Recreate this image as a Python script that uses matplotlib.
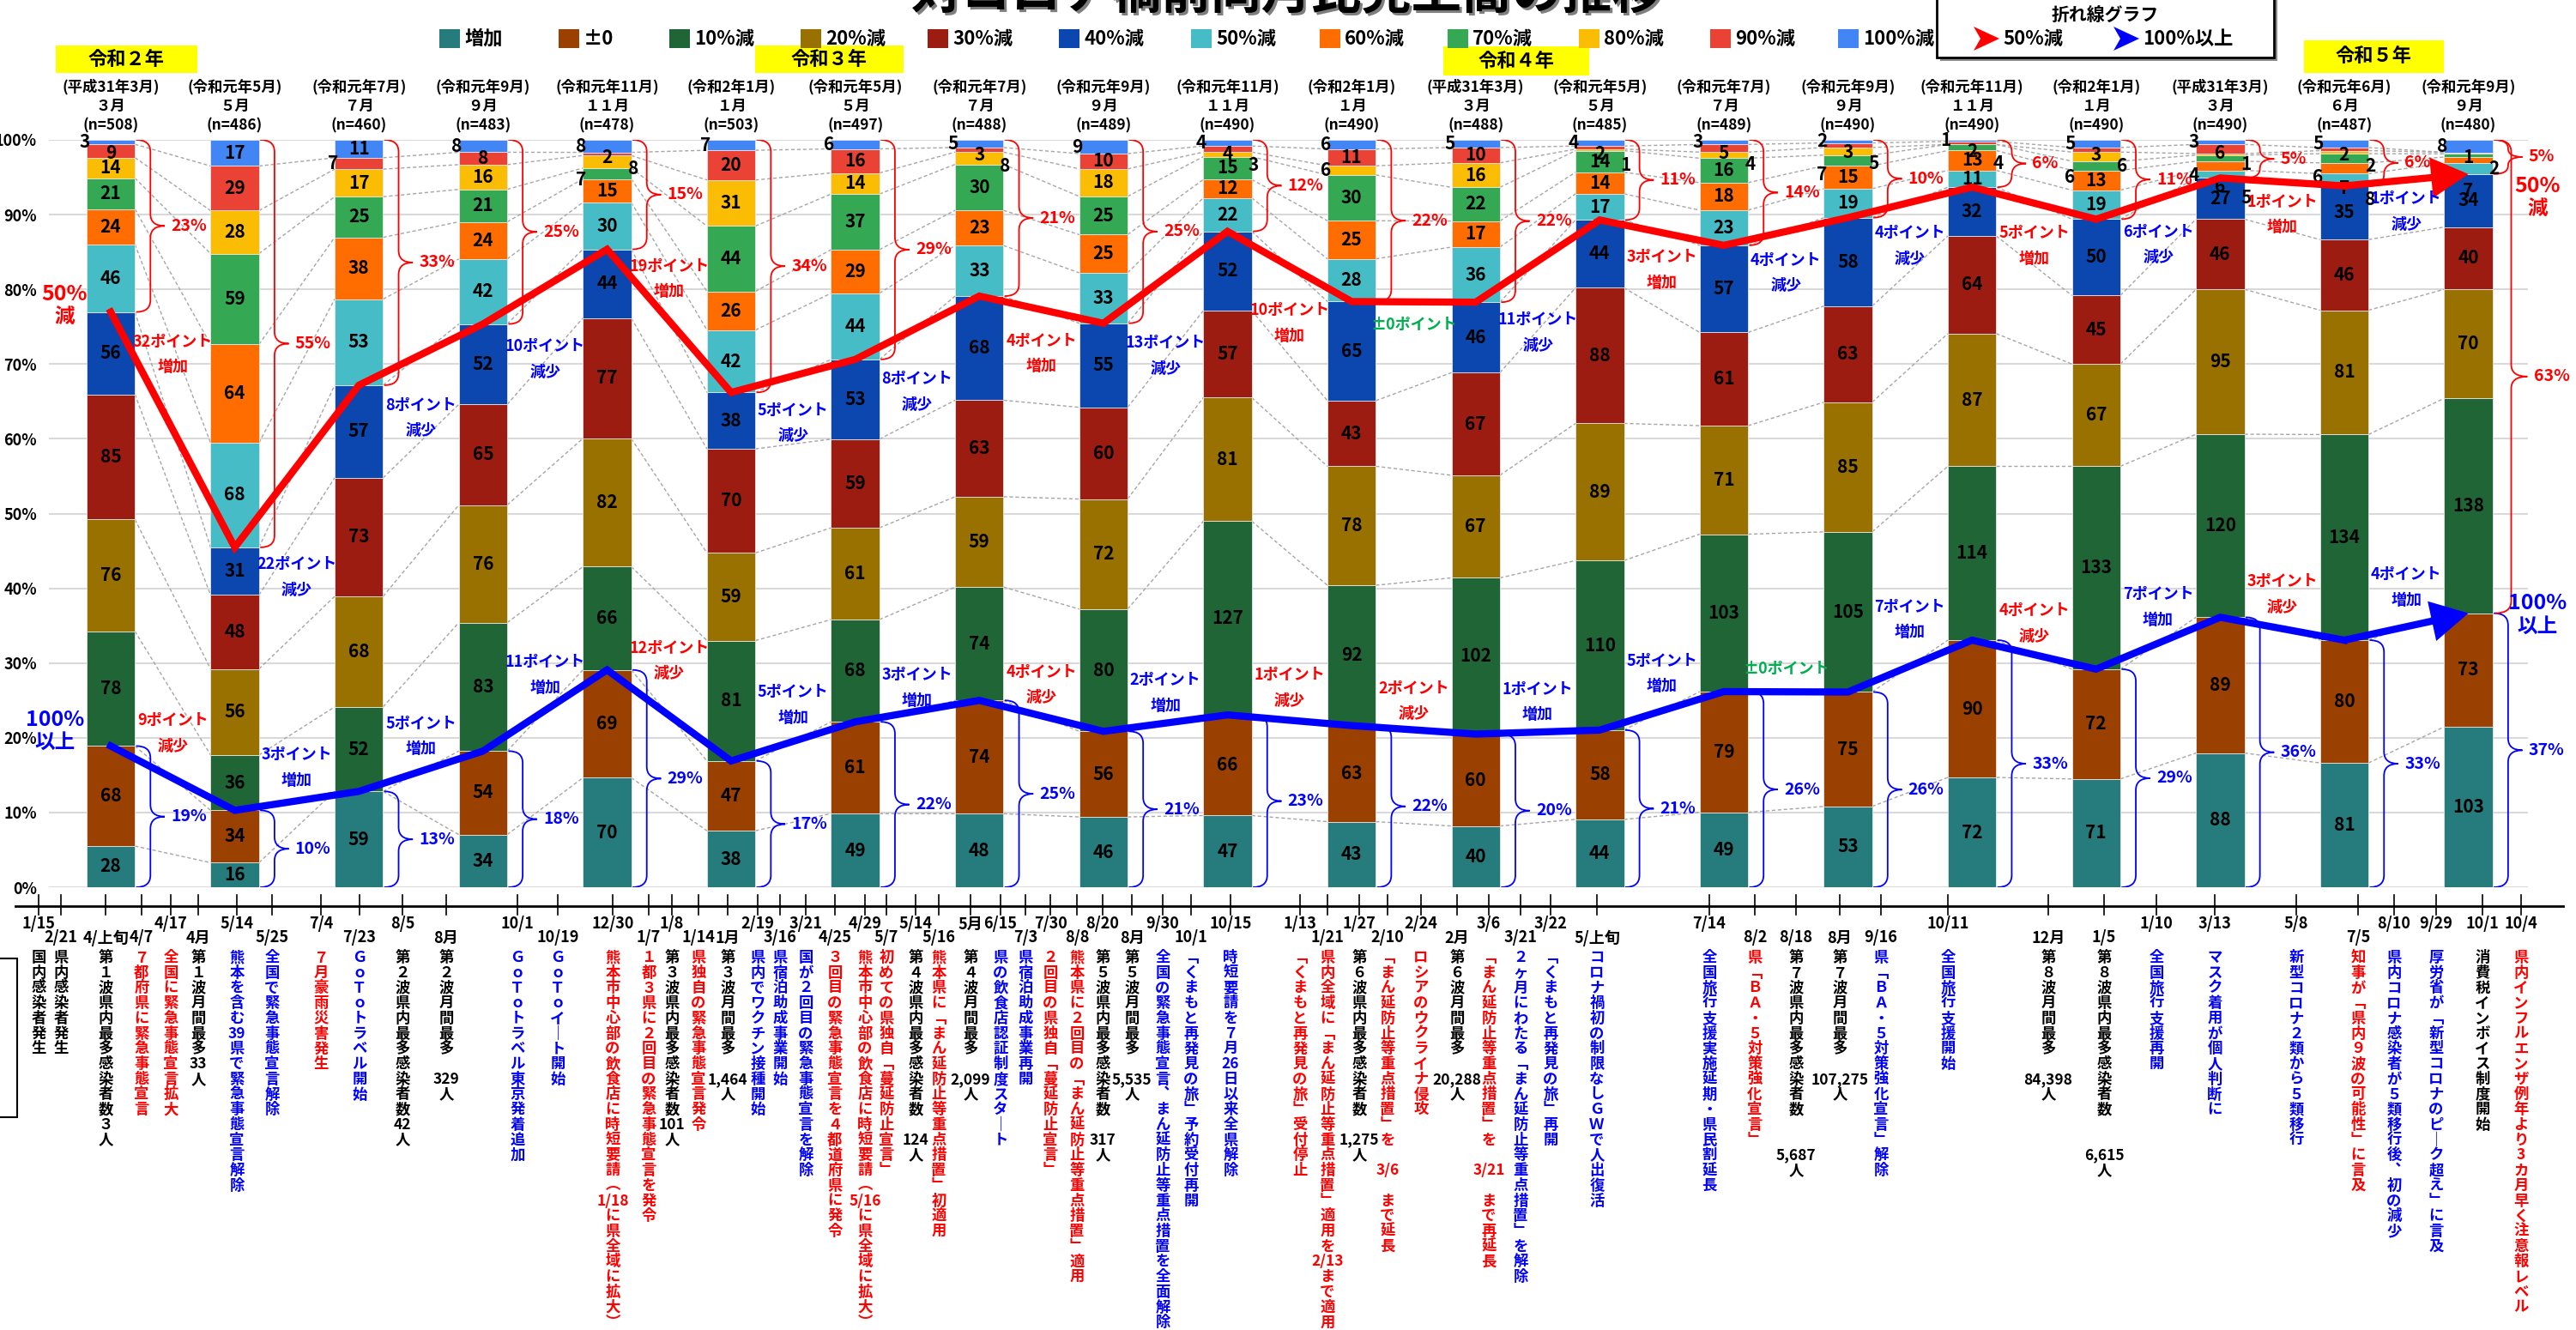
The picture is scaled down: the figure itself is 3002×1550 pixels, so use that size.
import re
import matplotlib
matplotlib.use("Agg")
import matplotlib.pyplot as plt
from matplotlib.patches import Rectangle, Polygon, PathPatch, FancyArrowPatch
from matplotlib.path import Path
from matplotlib.transforms import Affine2D, blended_transform_factory

plt.rcParams['font.family'] = ['Noto Sans CJK JP', 'DejaVu Sans']
plt.rcParams['font.weight'] = 'bold'
NUM = ['Liberation Sans Narrow', 'Noto Sans CJK JP', 'DejaVu Sans']

# ---------------- data ----------------
series = ['増加', '±0', '10%減', '20%減', '30%減', '40%減', '50%減',
          '60%減', '70%減', '80%減', '90%減', '100%減']
colors = ['#267b7c', '#9a4000', '#1f6536', '#997100', '#9c1c12', '#0b47af',
          '#46bdc6', '#ff6d01', '#34a853', '#fbbc04', '#ea4335', '#4285f4']

base_month = ['(平成31年3月)', '(令和元年5月)', '(令和元年7月)', '(令和元年9月)', '(令和元年11月)',
              '(令和2年1月)', '(令和元年5月)', '(令和元年7月)', '(令和元年9月)', '(令和元年11月)',
              '(令和2年1月)', '(平成31年3月)', '(令和元年5月)', '(令和元年7月)', '(令和元年9月)',
              '(令和元年11月)', '(令和2年1月)', '(平成31年3月)', '(令和元年6月)', '(令和元年9月)']
month = ['３月', '５月', '７月', '９月', '１１月', '１月', '５月', '７月', '９月', '１１月',
         '１月', '３月', '５月', '７月', '９月', '１１月', '１月', '３月', '６月', '９月']
n_resp = [508, 486, 460, 483, 478, 503, 497, 488, 489, 490,
          490, 488, 485, 489, 490, 490, 490, 490, 487, 480]

inc = [28, 16, 59, 34, 70, 38, 49, 48, 46, 47, 43, 40, 44, 49, 53, 72, 71, 88, 81, 103]
flat = [68, 34, 0, 54, 69, 47, 61, 74, 56, 66, 63, 60, 58, 79, 75, 90, 72, 89, 80, 73]
d10 = [78, 36, 52, 83, 66, 81, 68, 74, 80, 127, 92, 102, 110, 103, 105, 114, 133, 120, 134, 138]
d20 = [76, 56, 68, 76, 82, 59, 61, 59, 72, 81, 78, 67, 89, 71, 85, 87, 67, 95, 81, 70]
d30 = [85, 48, 73, 65, 77, 70, 59, 63, 60, 57, 43, 67, 88, 61, 63, 64, 45, 46, 46, 40]
d40 = [56, 31, 57, 52, 44, 38, 53, 68, 55, 52, 65, 46, 44, 57, 58, 32, 50, 27, 35, 34]
d50 = [46, 68, 53, 42, 30, 42, 44, 33, 33, 22, 28, 36, 17, 23, 19, 11, 19, 5, 8, 7]
d60 = [24, 64, 38, 24, 15, 26, 29, 23, 25, 12, 25, 17, 14, 18, 15, 13, 13, 6, 7, 4]
d70 = [21, 59, 25, 21, 7, 44, 37, 30, 25, 15, 30, 22, 14, 16, 7, 4, 6, 4, 6, 2]
d80 = [14, 28, 17, 16, 8, 31, 14, 8, 18, 3, 6, 16, 1, 4, 5, 0, 6, 1, 2, 1]
d90 = [9, 29, 7, 8, 2, 20, 16, 3, 10, 4, 11, 10, 2, 5, 3, 2, 3, 6, 2, 0]
d100 = [3, 17, 11, 8, 8, 7, 6, 5, 9, 4, 6, 5, 4, 3, 2, 1, 5, 3, 5, 8]
values = [inc, flat, d10, d20, d30, d40, d50, d60, d70, d80, d90, d100]

year_tags = ['令和２年', '令和３年', '令和４年', '令和５年']

# events on the time line
ev_date = ['1/15', '2/21', '4/上旬', '4/7', '4/17', '4月', '5/14', '5/25', '7/4', '7/23',
           '8/5', '8月', '10/1', '10/19', '12/30', '1/7', '1/8', '1/14', '1月', '2/19',
           '3/16', '3/21', '4/25', '4/29', '5/7', '5/14', '5/16', '5月', '6/15', '7/3',
           '7/30', '8/8', '8/20', '8月', '9/30', '10/1', '10/15', '1/13', '1/21', '1/27',
           '2/10', '2/24', '2月', '3/6', '3/21', '3/22', '5/上旬', '7/14', '8/2', '8/18',
           '8月', '9/16', '10/11', '12月', '1/5', '1/10', '3/13', '5/8', '7/5', '8/10',
           '9/29', '10/1', '10/4']
ev_text = ['国内感染者発生', '県内感染者発生', '第１波県内最多感染者数３人', '７都府県に緊急事態宣言',
           '全国に緊急事態宣言拡大', '第１波月間最多33人', '熊本を含む39県で緊急事態宣言解除',
           '全国で緊急事態宣言解除', '７月豪雨災害発生', 'ＧｏＴｏトラベル開始',
           '第２波県内最多感染者数42人', '第２波月間最多 329人', 'ＧｏＴｏトラベル東京発着追加',
           'ＧｏＴｏイート開始', '熊本市中心部の飲食店に時短要請（1/18に県全域に拡大）',
           '１都３県に２回目の緊急事態宣言を発令', '第３波県内最多感染者数101人',
           '県独自の緊急事態宣言発令', '第３波月間最多 1,464人', '県内でワクチン接種開始',
           '県宿泊助成事業開始', '国が２回目の緊急事態宣言を解除', '３回目の緊急事態宣言を４都道府県に発令',
           '熊本市中心部の飲食店に時短要請（5/16に県全域に拡大）', '初めての県独自「蔓延防止宣言」',
           '第４波県内最多感染者数 124人', '熊本県に「まん延防止等重点措置」初適用',
           '第４波月間最多 2,099人', '県の飲食店認証制度スタート', '県宿泊助成事業再開',
           '２回目の県独自「蔓延防止宣言」', '熊本県に２回目の「まん延防止等重点措置」適用',
           '第５波県内最多感染者数 317人', '第５波月間最多 5,535人',
           '全国の緊急事態宣言、まん延防止等重点措置を全面解除', '「くまもと再発見の旅」予約受付再開',
           '時短要請を７月26日以来全県解除', '「くまもと再発見の旅」受付停止',
           '県内全域に「まん延防止等重点措置」適用を2/13まで適用', '第６波県内最多感染者数 1,275人',
           '「まん延防止等重点措置」を 3/6 まで延長', 'ロシアのウクライナ侵攻',
           '第６波月間最多 20,288人', '「まん延防止等重点措置」を 3/21 まで再延長',
           '２ヶ月にわたる「まん延防止等重点措置」を解除', '「くまもと再発見の旅」再開',
           'コロナ禍初の制限なしＧＷで人出復活', '全国旅行支援実施延期・県民割延長',
           '県「ＢＡ・５対策強化宣言」', '第７波県内最多感染者数  5,687人', '第７波月間最多 107,275人',
           '県「ＢＡ・５対策強化宣言」解除', '全国旅行支援開始', '第８波月間最多 84,398人',
           '第８波県内最多感染者数  6,615人', '全国旅行支援再開', 'マスク着用が個人判断に',
           '新型コロナ２類から５類移行', '知事が「県内９波の可能性」に言及',
           '県内コロナ感染者が５類移行後、初の減少', '厚労省が「新型コロナのピーク超え」に言及',
           '消費税インボイス制度開始', '県内インフルエンザ例年より3カ月早く注意報レベル']
ev_kind = 'kkkrrkbbrbkkbbrrkrkbbbrrrkrkbbrrkkbbbrrkrrkrbbbbrkkbbkkbbbrbbkr'

# ---------------- layout ----------------
W, H = 3002, 1550
BW = 0.39
ev_x = [45, 71, 123, 165, 199, 231, 276, 317, 374, 419, 469, 520, 603, 650,
        714, 756, 783, 814, 848, 883, 909, 939, 973, 1008, 1033, 1067, 1094,
        1131, 1166, 1195, 1224, 1255, 1285, 1319, 1355, 1388, 1434, 1515, 1547,
        1584, 1617, 1656, 1698, 1735, 1772, 1807, 1861, 1992, 2045, 2093, 2144,
        2192, 2270, 2387, 2452, 2513, 2581, 2676, 2748, 2790, 2839, 2893, 2938]
ev_row = [0, 1, 1, 1, 0, 1, 0, 1, 0, 1, 0, 1, 0, 1, 0, 1, 0, 1, 1, 0,
          1, 0, 1, 0, 1, 0, 1, 0, 0, 1, 0, 1, 0, 1, 0, 1, 0, 0, 1, 0,
          1, 0, 1, 0, 1, 0, 1, 0, 1, 1, 1, 1, 0, 1, 1, 0, 0, 0, 1, 0,
          0, 0, 0]
red_lab_y = [73.0, 43.2, 64.5, 72.4, 83.1, 63.8, 68.0, 73.1, 72.8, 77.2,
             75.3, 75.9, 84.3, 83.9, 87.5, 87.5, 87.7, 91.7, 92.1]
blue_lab_y = [22.3, 17.7, 21.9, 30.1, 32.0, 26.1, 28.4, 28.8, 27.7, 28.4,
              26.6, 26.5, 30.3, 29.2, 37.5, 37.0, 39.2, 40.9, 41.8]
legend_x = [512, 651, 780, 933, 1081, 1234, 1388, 1538, 1687, 1840, 1993, 2142]
year_box = [(65, 53, 165, 32), (880, 53, 173, 32), (1682, 54, 170, 34), (2685, 47, 163, 38)]

RED, BLUE, GREEN = '#ff0000', '#0000ff', '#00b050'
KCOL = {'k': 'black', 'r': RED, 'b': BLUE}

fig = plt.figure(figsize=(W / 100, H / 100), dpi=100)
pix = Affine2D().scale(1 / W, -1 / H).translate(0, 1) + fig.transFigure
ax = fig.add_axes([57 / W, 1 - 1034 / H, (2946 - 57) / W, 871 / H])
xdp = blended_transform_factory(ax.transData, pix)

xs = list(range(len(n_resp)))
ax.set_xlim(-0.498, 19.48)
ax.set_ylim(0, 100)
for s in ax.spines.values():
    s.set_visible(False)
ax.set_xticks([])
ax.set_yticks(range(0, 101, 10))
ax.set_yticklabels([f'{v}%' for v in range(0, 101, 10)], fontsize=13, family=NUM)
ax.tick_params(axis='y', length=0, pad=10)
ax.grid(axis='y', color='#d9d9d9', lw=1.5)
ax.set_axisbelow(True)

# stacked bars
tot = [sum(c) for c in zip(*values)]
bottom = [0.0] * len(xs)
cum = []
for k, vals in enumerate(values):
    pct = [v / t * 100 for v, t in zip(vals, tot)]
    ax.bar(xs, pct, bottom=bottom, width=BW, color=colors[k],
           edgecolor='#e6e6e6', linewidth=0.6, zorder=2)
    bottom = [b + p for b, p in zip(bottom, pct)]
    cum.append(bottom)

# series lines between bars
for k in range(11):
    for i in range(len(xs) - 1):
        ax.plot([i + BW / 2, i + 1 - BW / 2], [cum[k][i], cum[k][i + 1]],
                color='#a6a6a6', lw=1, ls=(0, (3, 2)), zorder=1)

# segment labels
for i in xs:
    prev_y = 101.5
    cyc = 0
    for k in range(11, -1, -1):
        v = values[k][i]
        if v == 0:
            continue
        lo = cum[k - 1][i] if k > 0 else 0
        hi = cum[k][i]
        yc = (lo + hi) / 2
        if hi - lo < 2.0:
            y = min(yc, prev_y - 1.5)
            x = i + [-0.21, 0.0, 0.21][cyc % 3]
            cyc += 1
        else:
            y, x, cyc = yc, i, 0
        prev_y = y
        ax.text(x, y, str(v), ha='center', va='center', fontsize=15,
                family=NUM, color='black', zorder=4)


def rnd(x):
    return int(x + 0.5)


red = cum[5]
blue = cum[1]
fifty = [rnd(100 - r) for r in red]
over = [rnd(b) for b in blue]

# lines with arrows
for line, col in ((red, RED), (blue, BLUE)):
    ax.plot(xs[:-1], line[:-1], color=col, lw=6, solid_joinstyle='miter', zorder=5)
    ax.add_patch(FancyArrowPatch((xs[-2], line[-2]), (xs[-1], line[-1]),
                                 arrowstyle='-|>,head_length=0.55,head_width=0.3',
                                 mutation_scale=40, color=col, lw=6, shrinkA=0,
                                 shrinkB=0, joinstyle='miter', zorder=5))


def brace(x0, yt, yb, col, dx=0.115, r=1.6):
    r = min(r, (yt - yb) / 4)
    ym = (yt + yb) / 2
    xm, xt = x0 + dx, x0 + 2 * dx
    verts = [(x0, yt), (xm, yt), (xm, yt - r), (xm, ym + r), (xm, ym), (xt, ym),
             (xm, ym), (xm, ym - r), (xm, yb + r), (xm, yb), (x0, yb)]
    codes = [Path.MOVETO, Path.CURVE3, Path.CURVE3, Path.LINETO, Path.CURVE3, Path.CURVE3,
             Path.CURVE3, Path.CURVE3, Path.LINETO, Path.CURVE3, Path.CURVE3]
    ax.add_patch(PathPatch(Path(verts, codes), fc='none', ec=col, lw=1.3, zorder=3))
    return xt, ym


for i in xs:
    x0 = i + BW / 2 + 0.01
    xt, ym = brace(x0, 100, red[i], RED)
    ax.text(xt + 0.05, ym, f'{fifty[i]}%', color=RED, ha='left', va='center',
            fontsize=14, family=NUM, zorder=6)
    xt, ym = brace(x0, blue[i], 0, BLUE)
    ax.text(xt + 0.05, ym, f'{over[i]}%', color=BLUE, ha='left', va='center',
            fontsize=14, family=NUM, zorder=6)

# total decline bracket on the last bar
xt, ym = brace(xs[-1] + BW / 2 + 0.02, 100, blue[-1], RED, dx=0.13)
ax.text(xt + 0.05, ym, f'{rnd(100 - blue[-1])}%', color=RED, ha='left', va='center',
        fontsize=14, family=NUM, zorder=6)

# change between consecutive months
for i in range(len(xs) - 1):
    d = fifty[i + 1] - fifty[i]
    col, word = (RED, '増加') if d > 0 else (BLUE, '減少')
    if d == 0:
        col = GREEN
    ax.text(i + 0.5, red_lab_y[i], ('±0' if d == 0 else str(abs(d))) + 'ポイント',
            color=col, ha='center', va='center', fontsize=13, zorder=6)
    if d != 0:
        ax.text(i + 0.5, red_lab_y[i] - 3.4, word, color=col, ha='center',
                va='center', fontsize=13, zorder=6)
    d = over[i + 1] - over[i]
    col, word = (BLUE, '増加') if d > 0 else (RED, '減少')
    if d == 0:
        col = GREEN
    ax.text(i + 0.5, blue_lab_y[i], ('±0' if d == 0 else str(abs(d))) + 'ポイント',
            color=col, ha='center', va='center', fontsize=13, zorder=6)
    if d != 0:
        ax.text(i + 0.5, blue_lab_y[i] - 3.4, word, color=col, ha='center',
                va='center', fontsize=13, zorder=6)

# side labels
for xp, ys_, col, t1, t2 in ((75, (343, 369), RED, '50%', '減'),
                             (64, (839, 865), BLUE, '100%', '以上'),
                             (2957, (217, 243), RED, '50%', '減'),
                             (2957, (703, 730), BLUE, '100%', '以上')):
    fig.text(xp, ys_[0], t1, transform=pix, color=col, ha='center', va='center',
             fontsize=18, family=NUM)
    fig.text(xp, ys_[1], t2, transform=pix, color=col, ha='center', va='center',
             fontsize=17)

# month headers
for i in xs:
    ax.text(i, 101, base_month[i], transform=xdp, ha='center', va='center',
            fontsize=12.5, family=NUM)
    ax.text(i, 124, month[i], transform=xdp, ha='center', va='center', fontsize=12.5)
    ax.text(i, 146, f'(n={n_resp[i]})', transform=xdp, ha='center', va='center',
            fontsize=12.5, family=NUM)

# year boxes
for (bx, by, bw, bh), tag in zip(year_box, year_tags):
    fig.patches.append(Rectangle((bx, by), bw, bh, transform=pix, fc='#ffff00', ec='none'))
    fig.text(bx + bw / 2, by + bh / 2, tag, transform=pix, ha='center', va='center',
             fontsize=16)

# title
title = '対コロナ禍前同月比売上高の推移'
fig.text(1503, 13, title, transform=pix, ha='center', va='baseline', fontsize=42,
         color='#7f7f7f')
fig.text(1500, 10, title, transform=pix, ha='center', va='baseline', fontsize=42,
         color='black')

# bar legend
for lx, lab, col in zip(legend_x, series, colors):
    fig.patches.append(Rectangle((lx, 34), 24, 22, transform=pix, fc=col, ec='none'))
    fig.text(lx + 29, 45, lab, transform=pix, ha='left', va='center', fontsize=16,
             family=NUM)

# line legend box
fig.patches.append(Rectangle((2261, -6), 393, 77, transform=pix, fc='#8c8c8c', ec='none'))
fig.patches.append(Rectangle((2257, -10), 393, 77, transform=pix, fc='white',
                             ec='black', lw=2))
fig.text(2453, 17, '折れ線グラフ', transform=pix, ha='center', va='center', fontsize=15)
for ax0, col, lab in ((2300, RED, '50%減'), (2463, BLUE, '100%以上')):
    fig.patches.append(Polygon([(ax0, 31), (ax0 + 30, 45), (ax0, 59), (ax0 + 8, 45)],
                               closed=True, transform=pix, fc=col, ec='none'))
    fig.text(ax0 + 34, 45, lab, transform=pix, ha='left', va='center', fontsize=16,
             family=NUM)

# time line
fig.add_artist(plt.Line2D([18, 2987], [1056, 1056], transform=pix, color='black', lw=2))
VERT = {'「': '﹁', '」': '﹂', '（': '︵', '）': '︶', '、': '︑', 'ー': '｜'}


def tate(s):
    toks = re.findall(r'[0-9,./]+|.', s)
    return '\n'.join(VERT.get(t, t) for t in toks)


for x, d, row, txt, kind in zip(ev_x, ev_date, ev_row, ev_text, ev_kind):
    fig.add_artist(plt.Line2D([x, x], [1043, 1066], transform=pix, color='black', lw=1.2))
    fig.text(x, 1077 + 16 * row, d, transform=pix, ha='center', va='center',
             fontsize=13, family=NUM)
    fig.text(x, 1107, tate(txt), transform=pix, ha='center', va='top', ma='center',
             fontsize=12.5, linespacing=0.98, color=KCOL[kind], family=NUM)

fig.patches.append(Rectangle((-10, 1117), 30, 185, transform=pix, fc='none',
                             ec='black', lw=1.5))

fig.savefig('out.png', dpi=100)
